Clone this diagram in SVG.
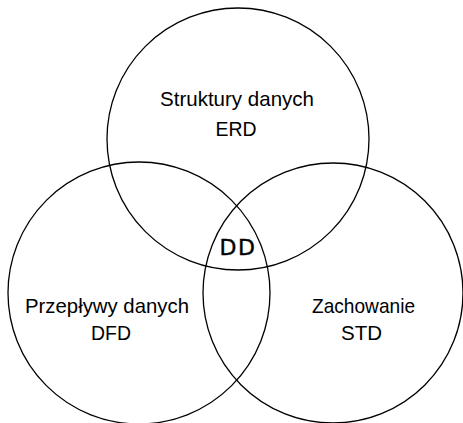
<svg xmlns="http://www.w3.org/2000/svg" width="463" height="423" viewBox="0 0 463 423">
<style>
.c{fill:none;stroke:#000;stroke-width:1.3}
.t{font-family:"Liberation Sans",Arial,sans-serif;font-size:21px;fill:#000;text-anchor:middle}
.b{font-family:"DejaVu Sans",sans-serif;font-size:22px;fill:#000;text-anchor:middle;stroke:#000;stroke-width:0.4;letter-spacing:1.5px}
</style>
<rect width="463" height="423" fill="#fff"/>
<g id="erd"><circle class="c" cx="238" cy="139" r="131"/><text class="t" x="237" y="106" textLength="154" lengthAdjust="spacingAndGlyphs">Struktury danych</text><text class="t" x="236" y="136" textLength="41" lengthAdjust="spacingAndGlyphs">ERD</text></g>
<g id="dfd"><circle class="c" cx="139" cy="293" r="131"/><text class="t" x="107" y="313" textLength="164" lengthAdjust="spacingAndGlyphs">Przepływy danych</text><text class="t" x="111" y="340" textLength="40" lengthAdjust="spacingAndGlyphs">DFD</text></g>
<g id="std"><circle class="c" cx="333" cy="293" r="130"/><text class="t" x="363.5" y="313" textLength="103" lengthAdjust="spacingAndGlyphs">Zachowanie</text><text class="t" x="361.5" y="340" textLength="41" lengthAdjust="spacingAndGlyphs">STD</text></g>
<g id="dd"><text class="b" x="238" y="255">DD</text></g>
<g id="connectors"/>
</svg>
